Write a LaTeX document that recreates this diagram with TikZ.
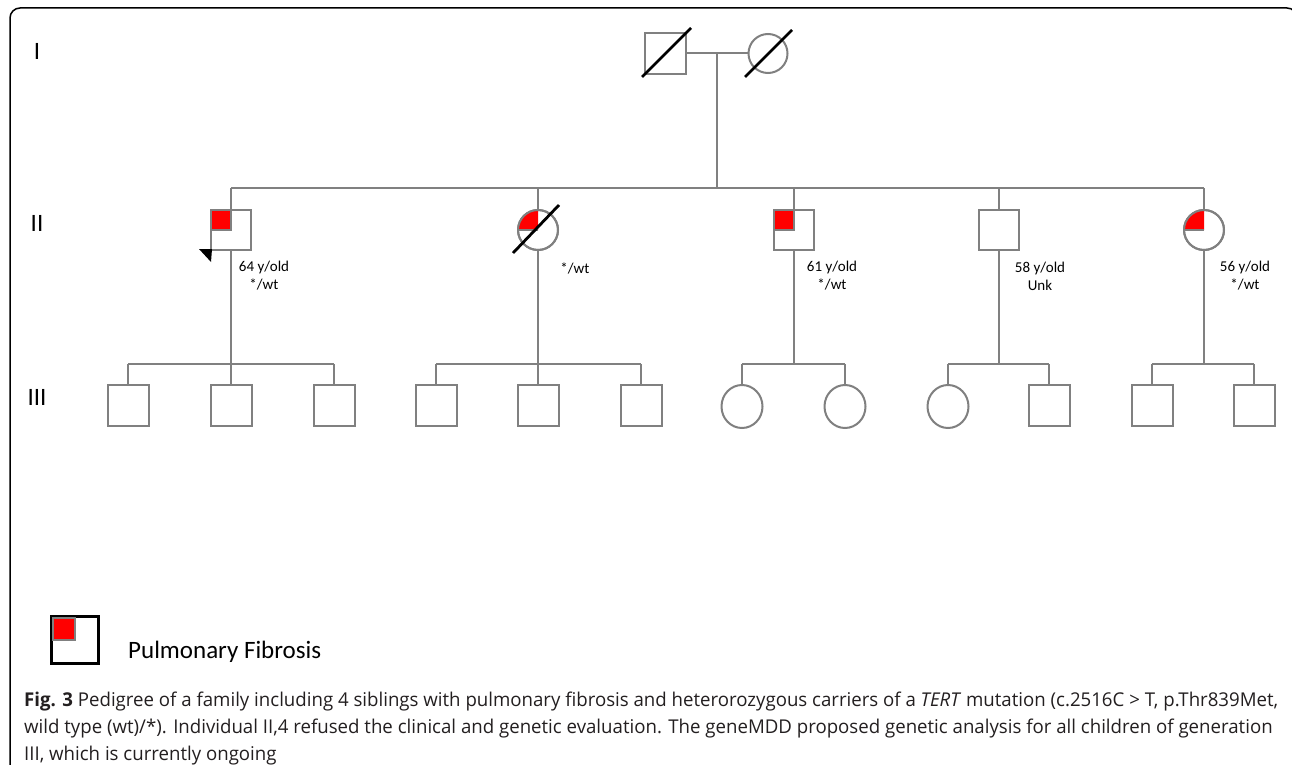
\documentclass[tikz,border=0pt]{standalone}
\usepackage{fontspec}
\setmainfont{Carlito}
\newfontfamily\capfont{Open Sans}
\usetikzlibrary{shapes.geometric}
\definecolor{pgrey}{HTML}{808080}
\definecolor{pred}{HTML}{FF0000}
\definecolor{captxt}{HTML}{231F20}
\newsavebox\capboxA
\newlength\capwA
\begin{document}
\sbox\capboxA{\capfont\fontsize{19}{27}\selectfont\textbf{Fig. 3} Pedigree of a family including 4 siblings with pulmonary fibrosis and heterorozygous carriers of a \textit{TERT} mutation (c.2516C > T, p.Thr839Met,}%
\setlength\capwA{\wd\capboxA}%
\pgfmathsetmacro\capsc{1254/\capwA}%
\begin{tikzpicture}[x=1pt,y=-1pt,
  ln/.style={draw=pgrey,line width=2pt},
  sq/.style={rectangle,draw=pgrey,line width=2pt,fill=white,minimum width=40pt,minimum height=40pt,inner sep=0pt,outer sep=0pt},
  ci/.style={circle,draw=pgrey,line width=2pt,fill=white,minimum size=40pt,inner sep=0pt,outer sep=0pt},
  sqIII/.style={sq,minimum width=41pt,minimum height=41pt},
  ciIII/.style={ellipse,draw=pgrey,line width=2pt,fill=white,minimum width=41pt,minimum height=43pt,inner sep=0pt,outer sep=0pt},
  slash/.style={draw=black,line width=2.8pt},
  affsq/.style={fill=pred,draw=pgrey,line width=1.5pt},
  lab/.style={font=\fontsize{15}{18}\selectfont,inner sep=0pt,align=center,text=black},
  gen/.style={font=\fontsize{25}{28}\selectfont,inner sep=0pt,text=black},
  captext/.style={font=\capfont\fontsize{19}{27}\selectfont,inner sep=0pt,anchor=west,text=captxt},
]
\useasboundingbox (0,0) rectangle (1292,765);
\fill[white] (0,0) rectangle (1292,765);
\clip (0,0) rectangle (1292,765);
% frame
\draw[line width=1.5pt,rounded corners=10pt] (10,8) rectangle (1297,790);

% generation labels
\node[gen] (gI) at (37,51) {I};
\node[gen] (gII) at (37,223) {II};
\node[gen] (gIII) at (37,397) {III};

% generation I
\node[sq,minimum size=40.5pt] (I1) at (665.5,53.5) {};
\node[ci,minimum size=39pt] (I2) at (768,53.5) {};
\draw[ln] (I1) -- (I2);
\coordinate (mI) at (717,53.5);
\coordinate (sII) at (717,188);
\draw[ln] (mI) -- (sII);
\draw[slash] (642,77) -- (691,28);
\draw[slash] (745,77) -- (792,30);

% generation II
\node[sq] (II1) at (231,230) {};
\node[ci] (II2) at (538,230) {};
\node[sq] (II3) at (794,230) {};
\node[sq] (II4) at (999,230) {};
\node[ci] (II5) at (1204,230) {};
\draw[ln] (II1.north |- sII) -- (II5.north |- sII);
\foreach \n in {II1,II2,II3,II4,II5} {\draw[ln] (\n.north |- sII) -- (\n.north);}

% affected markings
\draw[affsq] (II1.north west) rectangle (II1.center);
\draw[affsq] (II3.north west) rectangle (II3.center);
\fill[pred] (II2.center) -- (II2.west) arc[start angle=180,end angle=270,radius=20] -- cycle;
\draw[pgrey,line width=1.5pt] (II2.west) -- (II2.center);
\fill[pred] (II5.center) -- (II5.west) arc[start angle=180,end angle=270,radius=20] -- cycle;
\draw[pgrey,line width=1.5pt] (II5.west) -- (II5.center);
\draw[ln] (II2) circle[radius=20];
\draw[ln] (II5) circle[radius=20];
\draw[slash] (513,253) -- (559,205);
% proband arrowhead
\fill[black] (199,249) -- (212,249) -- (211,262) -- cycle;

% labels
\node[lab] (t1) at (264,276) {64 y/old\\*/wt};
\node[lab] (t2) at (575,268) {*/wt};
\node[lab] (t3) at (832,276) {61 y/old\\*/wt};
\node[lab] (t4) at (1040,276) {58 y/old\\Unk};
\node[lab] (t5) at (1245,276) {56 y/old\\*/wt};

% generation III
\coordinate (sIII) at (0,364);
\node[sqIII] (III1) at (128,405.5) {};
\node[sqIII] (III2) at (231,405.5) {};
\node[sqIII] (III3) at (334,405.5) {};
\node[sqIII] (III4) at (436,405.5) {};
\node[sqIII] (III5) at (538,405.5) {};
\node[sqIII] (III6) at (641,405.5) {};
\node[ciIII] (III7) at (742,406.5) {};
\node[ciIII] (III8) at (845,406.5) {};
\node[ciIII] (III9) at (948,406.5) {};
\node[sqIII] (III10) at (1049,405.5) {};
\node[sqIII] (III11) at (1152,405.5) {};
\node[sqIII] (III12) at (1254,405.5) {};

\foreach \p/\a/\b in {II1/III1/III3,II2/III4/III6,II3/III7/III8,II4/III9/III10,II5/III11/III12} {
  \draw[ln] (\p.south) -- (\p.south |- sIII);
  \draw[ln] (\a.north |- sIII) -- (\b.north |- sIII);
}
\foreach \c in {III1,III2,III3,III4,III5,III6,III7,III8,III9,III10,III11,III12} {
  \draw[ln] (\c.north |- sIII) -- (\c.north);
}

% legend
\node[rectangle,draw=black,line width=2.5pt,minimum size=47pt,inner sep=0pt,outer sep=0pt] (L) at (75,640) {};
\draw[fill=pred,draw=pgrey,line width=1.2pt] (L.north west) ++(1.5,1.5) rectangle (L.center);
\node[font=\fontsize{25}{29}\selectfont,anchor=west,inner sep=0pt] (Lt) at (128,652) {Pulmonary Fibrosis};

% caption
\node[captext] (c1) at (24,702) {\scalebox{\capsc}[1]{\textbf{Fig. 3} Pedigree of a family including 4 siblings with pulmonary fibrosis and heterorozygous carriers of a \textit{TERT} mutation (c.2516C > T, p.Thr839Met,}};
\node[captext] (c2) at (24,729) {\scalebox{\capsc}[1]{wild type (wt)/*). Individual II,4 refused the clinical and genetic evaluation. The geneMDD proposed genetic analysis for all children of generation}};
\node[captext] (c3) at (24,756) {\scalebox{\capsc}[1]{III, which is currently ongoing}};
\end{tikzpicture}
\end{document}
